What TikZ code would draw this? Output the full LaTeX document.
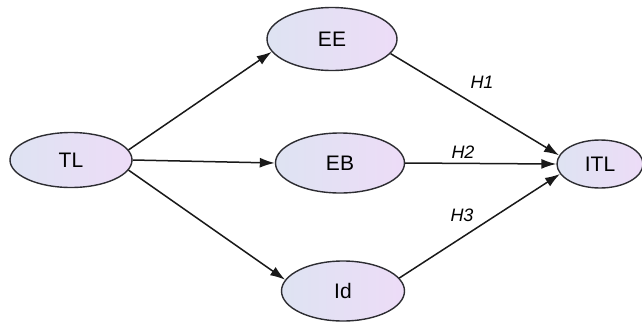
\documentclass[tikz,border=0pt]{standalone}
\usepackage{fontspec}
\setmainfont{Liberation Sans}
\usetikzlibrary{shapes.geometric,arrows.meta}
\definecolor{fillL}{RGB}{222,227,242}
\definecolor{fillR}{RGB}{237,220,247}
\definecolor{edgeC}{RGB}{45,45,50}
\tikzset{
  var/.style={ellipse,draw=edgeC,line width=1.4pt,left color=fillL,right color=fillR,inner sep=0pt,font=\fontsize{21}{23}\selectfont},
  link/.style={draw=black!90,line width=1.5pt,-{Latex[length=15pt,width=10pt]}},
  hyp/.style={font=\fontsize{18}{20}\selectfont\itshape}
}
\begin{document}
\begin{tikzpicture}[x=1pt,y=-1pt]
\useasboundingbox (0,0) rectangle (642,322);
\node[var,minimum width=122pt,minimum height=55pt] (TL) at (71,160) {TL};
\node[var,minimum width=130pt,minimum height=63pt] (EE) at (332,39) {EE};
\node[var,minimum width=129pt,minimum height=60pt] (EB) at (340,163) {EB};
\node[var,minimum width=123pt,minimum height=60pt] (Id) at (343,291) {Id};
\node[var,minimum width=86pt,minimum height=48pt] (ITL) at (600,164) {ITL};
\draw[link] (TL.10) -- (EE.192);
\draw[link] (TL.east) -- (EB.west);
\draw[link] (TL.-10) -- (Id.169);
\draw[link] (EE.-14) -- (ITL.168);
\draw[link] (EB.east) -- (ITL.west);
\draw[link] (Id.13) -- (ITL.194);
\node[hyp] (h1) at (482,82) {H1};
\node[hyp] (h2) at (463,152) {H2};
\node[hyp] (h3) at (462,215) {H3};
\end{tikzpicture}
\end{document}
